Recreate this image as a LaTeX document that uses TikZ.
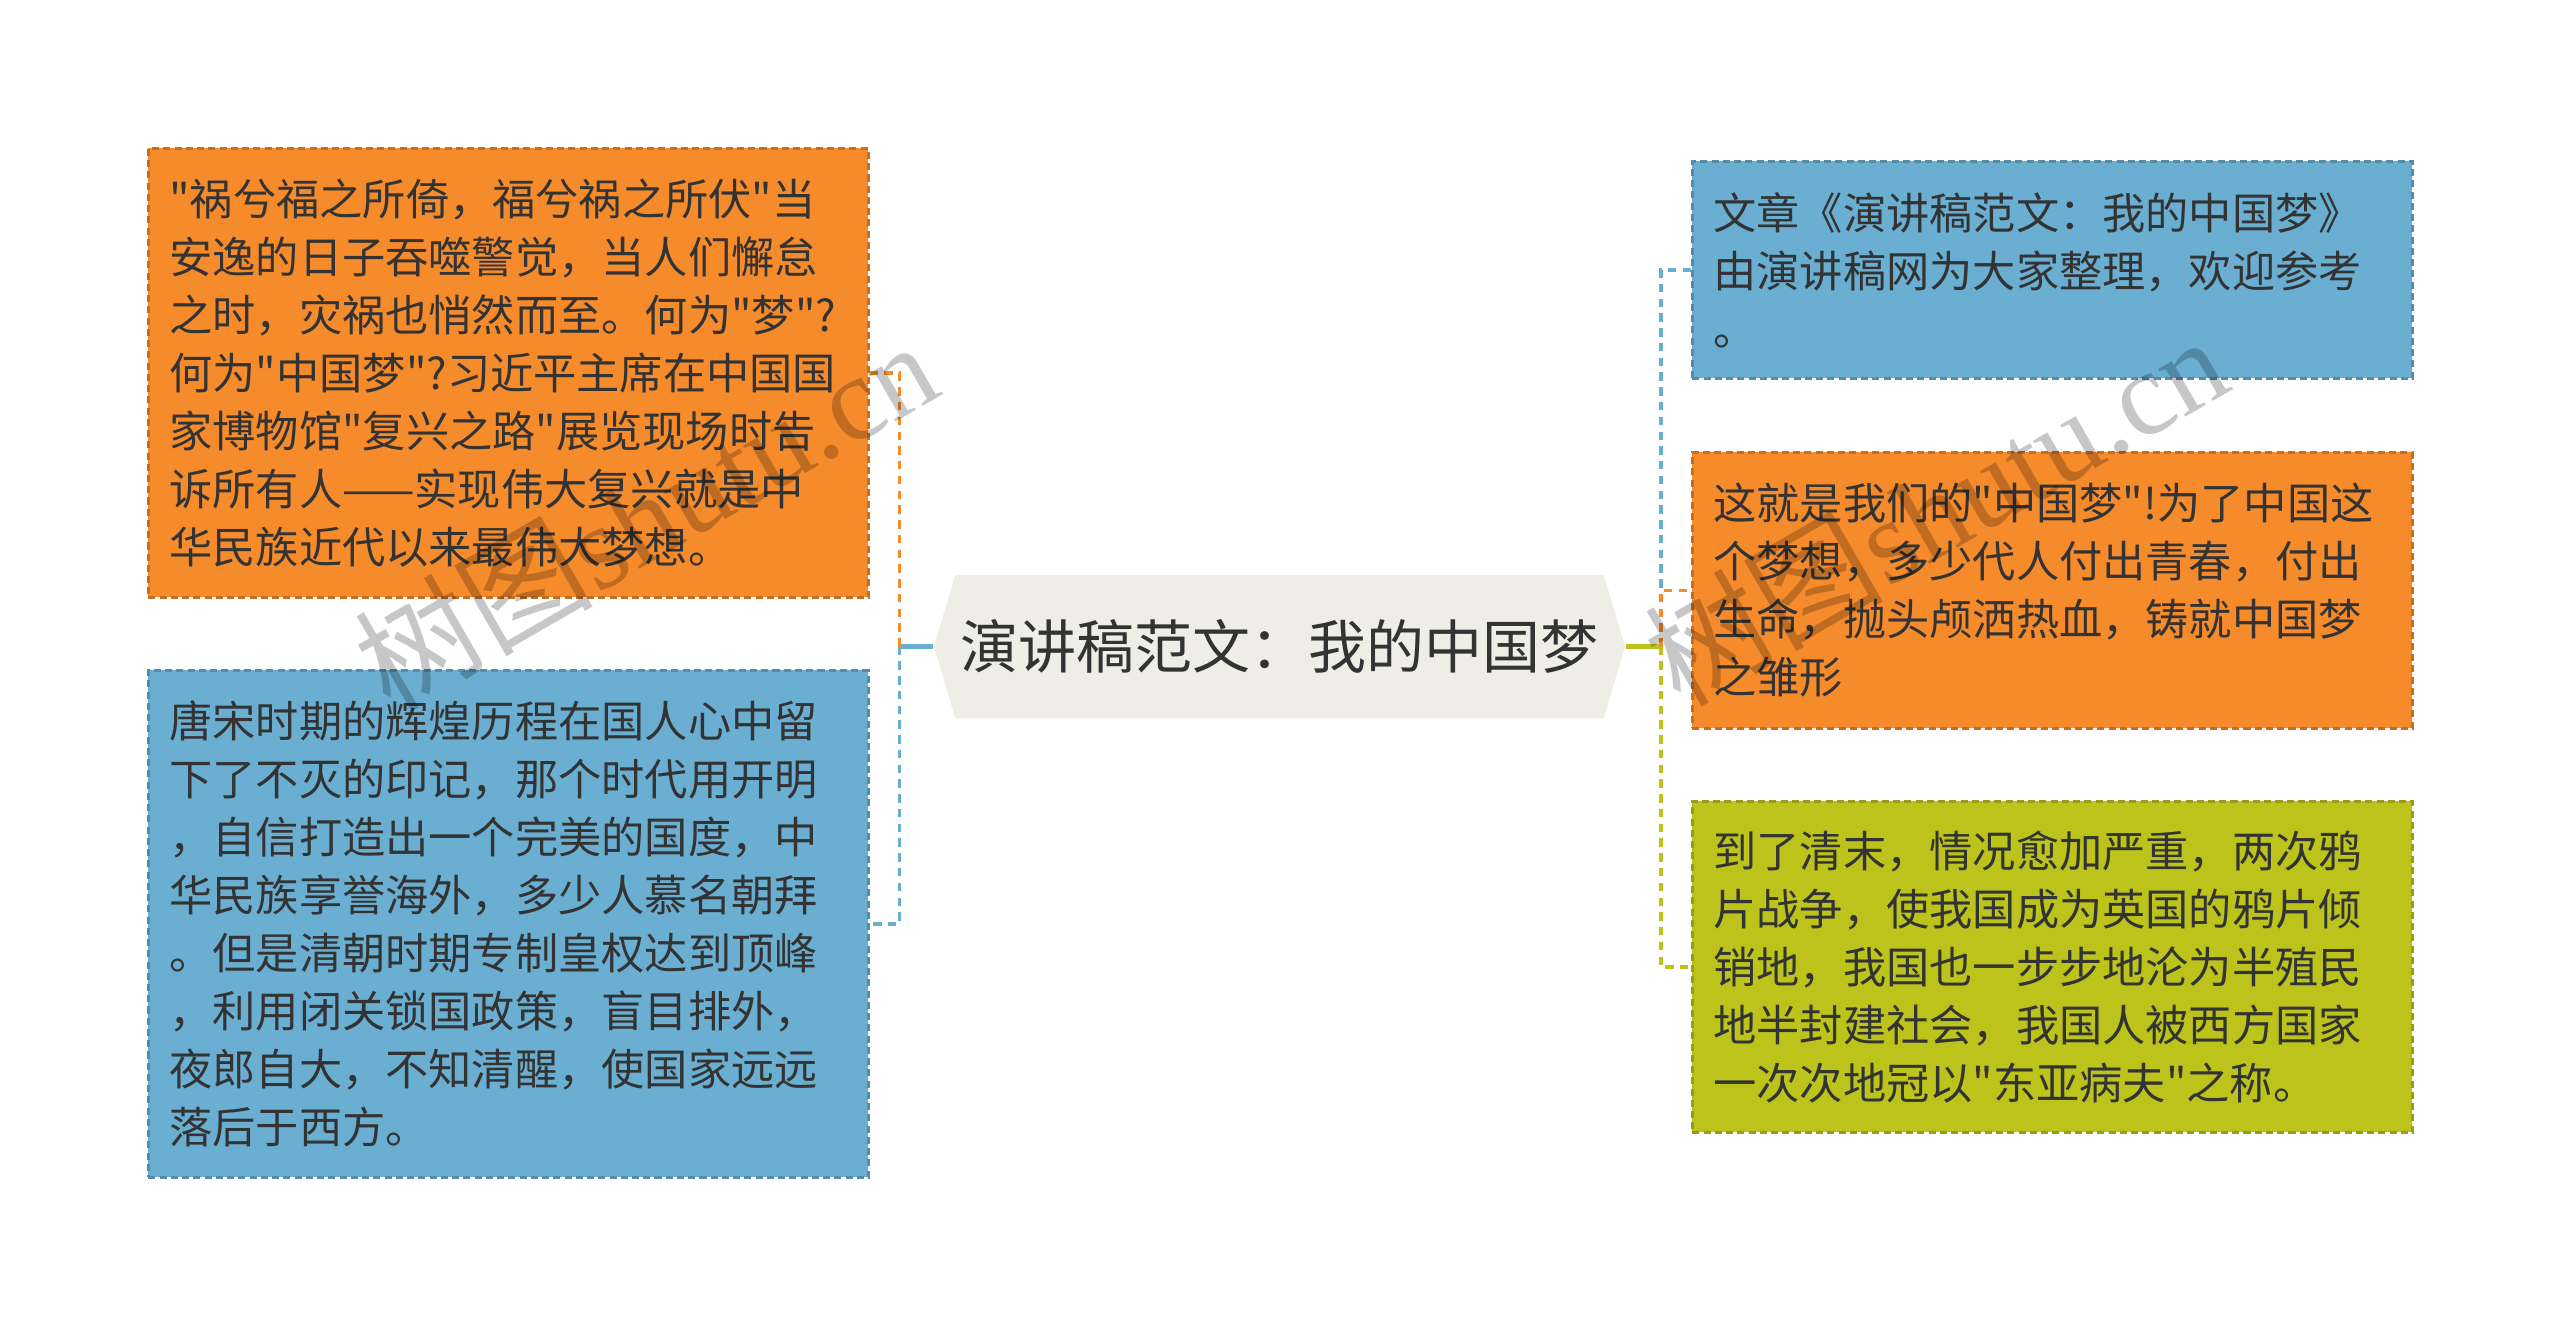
\documentclass[tikz,border=0pt]{standalone}
\usepackage{fontspec}
\newfontfamily\cjkfont{Noto Sans CJK SC}
\newfontfamily\markfont{Liberation Serif}
\usetikzlibrary{shapes.symbols}
\definecolor{leaforange}{HTML}{F68B2C}
\definecolor{leafblue}{HTML}{6AAFD1}
\definecolor{leafgreen}{HTML}{BCC41C}
\definecolor{hubgray}{HTML}{EEEEE6}
\definecolor{inkgray}{HTML}{333333}

\begin{document}
\begin{tikzpicture}[scale=0.1]
        \tikzstyle{every node}+=[text=inkgray]
        \tikzstyle{leaf}=[rectangle, anchor=north west, inner xsep=0.21cm, text width=6.78cm, align=left, minimum width=7.2cm, font=\cjkfont\fontsize{12.3pt}{16.5pt}\selectfont, dash pattern=on 2pt off 1.2pt, line width=0.8pt]
        \tikzstyle{link}=[dash pattern=on 2.4pt off 1.8pt, line width=0.9pt]
        \tikzstyle{watermark}=[rotate=30, text=black, text opacity=0.22, font=\cjkfont\fontsize{34pt}{34pt}\selectfont]
        \useasboundingbox (0,0) rectangle (256,-132.3);
        \node [signal, signal to=west and east, signal pointer angle=147, fill=hubgray, inner xsep=0pt, minimum width=6.91cm, minimum height=1.43cm, font=\cjkfont\fontsize{16.5pt}{20pt}\selectfont] (hub) at (127.95,-64.65) {演讲稿范文：我的中国梦};
        \node [leaf, fill=leaforange, draw=leaforange!80!black, minimum height=4.49cm] (woe) at (14.7,-14.7) {"祸兮福之所倚，福兮祸之所伏"当\\安逸的日子吞噬警觉，当人们懈怠\\之时，灾祸也悄然而至。何为"梦"?\\何为"中国梦"?习近平主席在中国国\\家博物馆"复兴之路"展览现场时告\\诉所有人——实现伟大复兴就是中\\华民族近代以来最伟大梦想。};
        \node [leaf, fill=leafblue, draw=leafblue!80!black, minimum height=5.07cm] (tang) at (14.7,-66.9) {唐宋时期的辉煌历程在国人心中留\\下了不灭的印记，那个时代用开明\\，自信打造出一个完美的国度，中\\华民族享誉海外，多少人慕名朝拜\\。但是清朝时期专制皇权达到顶峰\\，利用闭关锁国政策，盲目排外，\\夜郎自大，不知清醒，使国家远远\\落后于西方。};
        \node [leaf, fill=leafblue, draw=leafblue!80!black, minimum height=2.17cm] (intro) at (169.1,-16.0) {文章《演讲稿范文：我的中国梦》\\由演讲稿网为大家整理，欢迎参考\\。};
        \node [leaf, fill=leaforange, draw=leaforange!80!black, minimum height=2.76cm] (ours) at (169.1,-45.1) {这就是我们的"中国梦"!为了中国这\\个梦想，多少代人付出青春，付出\\生命，抛头颅洒热血，铸就中国梦\\之雏形};
        \node [leaf, fill=leafgreen, draw=leafgreen!80!black, minimum height=3.31cm] (qing) at (169.1,-80.0) {到了清末，情况愈加严重，两次鸦\\片战争，使我国成为英国的鸦片倾\\销地，我国也一步步地沦为半殖民\\地半封建社会，我国人被西方国家\\一次次地冠以"东亚病夫"之称。};
        \draw [leafblue, line width=1.2pt] (hub.west) -- ++(-3.4,0) coordinate (lfork);
        \draw [leaforange, link] (lfork) |- (woe.east);
        \draw [leafblue, link] (lfork) |- (tang.east);
        \draw [leafgreen, line width=1.2pt] (hub.east) -- ++(3.5,0) coordinate (rfork);
        \draw [leafblue, link] (rfork) |- (intro.west);
        \draw [leaforange, link] (rfork) |- (ours.west);
        \draw [leafgreen, link] (rfork) |- (qing.west);
        \node [watermark] (markl) at (64.5,-51.4) {树图{\markfont shutu.cn}};
        \node [watermark] (markr) at (193.5,-50.9) {树图{\markfont shutu.cn}};
\end{tikzpicture}
\end{document}
